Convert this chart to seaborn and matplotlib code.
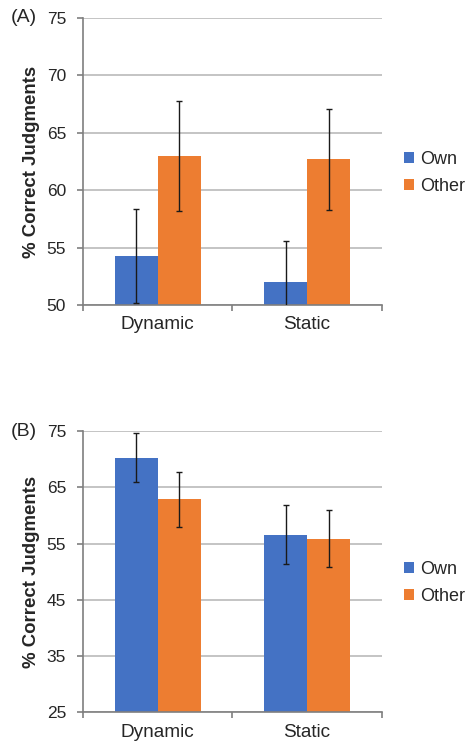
import pandas as pd
import matplotlib.pyplot as plt
import seaborn as sns

conditions = ["Dynamic", "Static"]
groups = ["Own", "Other"]

# panel A
a_own = [54.3, 52.0]
a_other = [63.0, 62.7]
a_own_err = [4.1, 3.6]
a_other_err = [4.8, 4.4]

# panel B
b_own = [70.3, 56.6]
b_other = [62.9, 55.9]
b_own_err = [4.4, 5.2]
b_other_err = [4.9, 5.0]

BLUE = "#4472C4"
ORANGE = "#ED7D31"

sns.set_style("white")
plt.rcParams['font.family'] = ['Liberation Sans', 'DejaVu Sans']


def panel(ax, own, other, own_err, other_err, ylim, yticks, tag):
    df = pd.DataFrame({
        "condition": conditions * 2,
        "group": [groups[0]] * 2 + [groups[1]] * 2,
        "value": own + other,
    })
    errs = own_err + other_err
    sns.barplot(data=df, x="condition", y="value", hue="group",
                hue_order=groups, palette=[BLUE, ORANGE], width=0.575,
                errorbar=None, ax=ax, zorder=2, saturation=1, linewidth=0)
    # error bars at bar centres
    patches = [p for p in ax.patches if p.get_width() > 0][:4]
    xs = [p.get_x() + p.get_width() / 2 for p in patches]
    ys = [p.get_height() for p in patches]
    ax.errorbar(xs, ys, yerr=errs, fmt="none", ecolor="#1a1a1a",
                elinewidth=1.0, capsize=2.3, capthick=1.0, zorder=3)
    ax.set_ylim(*ylim)
    ax.set_xlim(-0.5, 1.5)
    ax.set_yticks(yticks)
    ax.yaxis.grid(True, color="#BFBFBF", linewidth=1.3, zorder=0)
    ax.set_axisbelow(True)
    for s in ["top", "right"]:
        ax.spines[s].set_visible(False)
    for s in ["left", "bottom"]:
        ax.spines[s].set_color("#7F7F7F")
        ax.spines[s].set_linewidth(1.2)
    ax.set_xlabel("")
    ax.set_ylabel("% Correct Judgments", fontsize=13.4, fontweight="bold",
                  labelpad=5)
    ax.tick_params(axis="y", direction="out", length=4, width=1.2,
                   color="#7F7F7F", labelsize=12.5, pad=8, left=True)
    ax.set_xticks([-0.5, 0.5, 1.5], minor=True)
    ax.tick_params(axis="x", which="minor", direction="out", length=4,
                   width=1.2, color="#7F7F7F", bottom=True)
    ax.tick_params(axis="x", which="major", length=0, labelsize=13.7, pad=8)
    ax.legend(loc="center left", bbox_to_anchor=(1.05, 0.46), frameon=False,
              fontsize=13, handlelength=0.55, handleheight=0.55,
              handletextpad=0.35, labelspacing=0.55, borderaxespad=0)
    ax.text(-0.24, 1.0, tag, transform=ax.transAxes, fontsize=14,
            ha="left", va="center")


fig = plt.figure(figsize=(4.68, 7.46), dpi=100)
ax1 = fig.add_axes([0.177, 0.591, 0.639, 0.385])
ax2 = fig.add_axes([0.177, 0.045, 0.639, 0.377])

panel(ax1, a_own, a_other, a_own_err, a_other_err, (50, 75),
      [50, 55, 60, 65, 70, 75], "(A)")
panel(ax2, b_own, b_other, b_own_err, b_other_err, (25, 75),
      [25, 35, 45, 55, 65, 75], "(B)")

fig.savefig("out.png", dpi=100)
